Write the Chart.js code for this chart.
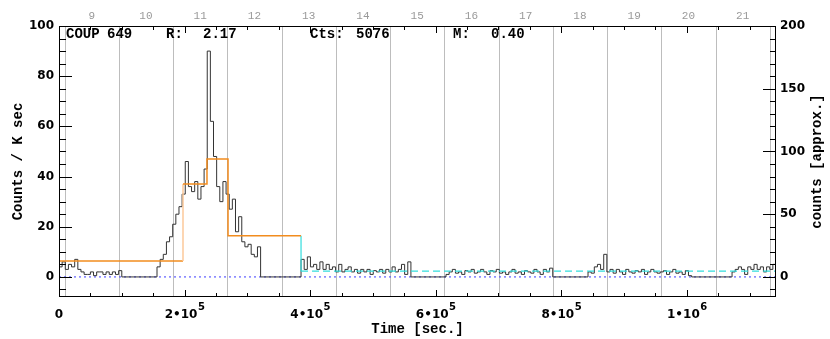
<!DOCTYPE html>
<html>
<head>
  <title>COUP 649</title>
  <script src="https://cdn.jsdelivr.net/npm/chart.js"></script>
  <style>
    body { margin: 0; background-color: white; }
  </style>
</head>
<body>
  <canvas id="lightCurve" width="830" height="339"></canvas>

  <script>
    // light curve bins (counts / ksec), 5 ks bins, one array per observing segment
    const binWidth = 5000;
    const segStarts = [0, 156100, 385500, 616400, 842600, 1072000];
    const seg1 = [4, 6, 3, 5, 4, 7, 3, 2, 1, 1, 2, 0.5, 2, 2, 1, 2, 1, 2, 1, 2.5];
    const seg2 = [4, 7, 9, 14, 16, 21, 25, 28, 33, 46, 36, 34, 38, 31, 36, 43, 90, 62, 48, 36,
                  30, 38, 33, 27, 31, 18, 24, 14, 12, 13, 9, 8, 12];
    const seg3 = [7, 3, 8, 4, 5, 3, 6, 3, 5, 3, 4, 2, 5, 2, 3, 4, 2, 3, 1.5, 3,
                  2, 3, 1, 2.5, 2, 3, 1.5, 3, 2, 4, 2, 3, 5, 1, 6];
    const seg4 = [1, 2, 3, 1.5, 2, 1, 2.5, 2, 3, 1.5, 2, 3, 2, 1, 2.5, 2, 3, 1.5, 2, 1,
                  2, 3, 1.5, 2, 1, 2.5, 2, 1.5, 3, 2, 1, 3, 2, 3.5];
    const seg5 = [2, 1.5, 4, 5, 3, 9, 2, 3, 1.5, 3, 2, 1, 3, 2, 1.5, 2.5, 2, 3, 1, 2,
                  3, 2, 1.5, 2, 2.5, 1, 2, 3, 1.5, 2, 1, 2.5, 0.5];
    const seg6 = [2, 3, 4, 3, 1, 4, 3, 5, 3, 4, 2, 4, 3, 5];
    const segments = [seg1, seg2, seg3, seg4, seg5, seg6];

    // bayesian blocks
    const blockEdges = [0, 197500, 235700, 269200, 385500];
    const blockRates = [6.3, 37, 47, 16.4];
    const lastBlockRate = 2.3;

    const tMax = 1142000;
    const dayStart = 8920;
    const daySec = 86400;

    const xLabelValues = [0, 200000, 400000, 600000, 800000, 1000000];
    const header = [["COUP", 66], ["649", 107], ["R:", 166], ["2.17", 203],
                    ["Cts:", 310], ["5076", 356], ["M:", 453], ["0.40", 491]];

    const curve = [];
    segments.forEach((vals, s) => {
      const t0 = segStarts[s];
      vals.forEach((v, i) => curve.push({x: t0 + i * binWidth, y: v}));
      curve.push({x: t0 + vals.length * binWidth, y: 0});
    });
    curve.push({x: tMax, y: 0});

    const blocks = [];
    blockRates.forEach((r, i) => {
      blocks.push({x: blockEdges[i], y: r});
      blocks.push({x: blockEdges[i + 1], y: r});
    });

    const lastEdge = blockEdges[blockEdges.length - 1];
    const lastBlock = [
      {x: lastEdge, y: blockRates[blockRates.length - 1]},
      {x: lastEdge, y: lastBlockRate},
      {x: tMax, y: lastBlockRate}
    ];

    const decor = {
      id: 'decor',
      beforeDatasetsDraw(chart) {
        const {ctx, chartArea: a, scales: {x}} = chart;
        ctx.save();
        ctx.strokeStyle = '#bdbdbd';
        ctx.lineWidth = 1;
        for (let t = dayStart; t <= tMax; t += daySec) {
          const px = Math.round(x.getPixelForValue(t)) + 0.5;
          ctx.beginPath();
          ctx.moveTo(px, a.top);
          ctx.lineTo(px, a.bottom);
          ctx.stroke();
        }
        ctx.restore();
      },
      afterDraw(chart) {
        const {ctx, chartArea: a, scales: {x, y, y2}} = chart;
        ctx.save();
        ctx.strokeStyle = 'black';
        ctx.lineWidth = 1;
        ctx.strokeRect(a.left + 0.5, a.top + 0.5, a.right - a.left - 1, a.bottom - a.top - 1);

        const tick = (x1, y1, x2, y2) => {
          ctx.beginPath();
          ctx.moveTo(x1, y1);
          ctx.lineTo(x2, y2);
          ctx.stroke();
        };
        for (let v = -5; v <= 100; v += 5) {
          const py = Math.round(y.getPixelForValue(v)) + 0.5;
          tick(a.left, py, a.left + (v % 20 === 0 ? 13 : 7), py);
        }
        for (let v = -10; v <= 200; v += 10) {
          const py = Math.round(y2.getPixelForValue(v)) + 0.5;
          tick(a.right, py, a.right - (v % 50 === 0 ? 13 : 6), py);
        }
        for (let t = 50000; t < tMax; t += 50000) {
          const px = Math.round(x.getPixelForValue(t)) + 0.5;
          const len = t % 200000 === 0 ? 7 : 4;
          tick(px, a.bottom, px, a.bottom - len);
          tick(px, a.top, px, a.top + len);
        }

        // bottom tick labels with exponents
        ctx.fillStyle = 'black';
        ctx.textBaseline = 'alphabetic';
        xLabelValues.forEach(v => {
          const px = x.getPixelForValue(v);
          ctx.font = 'bold 12px "DejaVu Sans"';
          if (v === 0) {
            ctx.textAlign = 'center';
            ctx.fillText('0', px, 317.5);
            return;
          }
          const e = Math.floor(Math.log10(v));
          const base = (v / Math.pow(10, e)) + '\u202210';
          const expo = String(e);
          const wb = ctx.measureText(base).width;
          ctx.font = 'bold 10px "DejaVu Sans"';
          const we = ctx.measureText(expo).width;
          const x0 = px - (wb + we) / 2;
          ctx.textAlign = 'left';
          ctx.font = 'bold 12px "DejaVu Sans"';
          ctx.fillText(base, x0, 317.5);
          ctx.font = 'bold 10px "DejaVu Sans"';
          ctx.fillText(expo, x0 + wb + 0.5, 310);
        });

        // titles
        ctx.font = 'bold 14px "Liberation Mono"';
        ctx.textAlign = 'center';
        ctx.textBaseline = 'middle';
        ctx.fillText('Time [sec.]', (a.left + a.right) / 2, 329);
        const mid = (a.top + a.bottom) / 2;
        ctx.save();
        ctx.translate(18, mid);
        ctx.rotate(-Math.PI / 2);
        ctx.fillText('Counts / K sec', 0, 0);
        ctx.restore();
        ctx.save();
        ctx.translate(817, mid);
        ctx.rotate(-Math.PI / 2);
        ctx.fillText('counts [approx.]', 0, 0);
        ctx.restore();

        // header line inside the plot
        ctx.textAlign = 'left';
        header.forEach(([txt, hx]) => ctx.fillText(txt, hx, 34));
        ctx.restore();
      }
    };

    new Chart(document.getElementById('lightCurve'), {
      type: 'line',
      data: {
        datasets: [
          {
            data: blocks,
            borderColor: '#f28c1e',
            borderWidth: 1.5,
            pointRadius: 0,
            segment: {
              borderColor: c => c.p0DataIndex === 1 ? '#fcc99a' : undefined
            }
          },
          {
            data: lastBlock,
            borderColor: '#33dddd',
            borderWidth: 1.2,
            pointRadius: 0,
            segment: {
              borderDash: c => c.p0DataIndex === 0 ? [] : [7, 4]
            }
          },
          {
            data: curve,
            borderColor: '#333333',
            borderWidth: 1,
            pointRadius: 0,
            stepped: true
          },
          {
            data: [{x: 0, y: 0}, {x: tMax, y: 0}],
            borderColor: '#3b3bff',
            borderWidth: 1,
            borderDash: [2, 3],
            pointRadius: 0
          }
        ]
      },
      options: {
        responsive: false,
        animation: false,
        layout: { padding: 0 },
        plugins: {
          legend: { display: false },
          tooltip: { enabled: false }
        },
        scales: {
          x: {
            type: 'linear',
            position: 'bottom',
            min: 0,
            max: tMax,
            grid: { display: false, drawTicks: false },
            border: { display: false },
            ticks: { display: false },
            afterFit: s => { s.height = 42; }
          },
          x2: {
            type: 'linear',
            position: 'top',
            min: 8.5 - dayStart / daySec,
            max: 8.5 + (tMax - dayStart) / daySec,
            grid: { display: false, drawTicks: false },
            border: { display: false },
            ticks: {
              stepSize: 1,
              includeBounds: false,
              autoSkip: false,
              padding: 3,
              color: '#999999',
              font: { family: 'Liberation Mono', size: 11 }
            },
            afterBuildTicks: s => { s.ticks = s.ticks.filter(t => Number.isInteger(t.value)); },
            afterFit: s => { s.height = 26; }
          },
          y: {
            position: 'left',
            min: -8,
            max: 100,
            grid: { display: false, drawTicks: false },
            border: { display: false },
            ticks: {
              stepSize: 20,
              includeBounds: false,
              padding: 5,
              color: 'black',
              font: { family: 'DejaVu Sans', size: 12, weight: 'bold' }
            },
            afterBuildTicks: s => { s.ticks = s.ticks.filter(t => t.value >= 0 && t.value % 20 === 0); },
            afterFit: s => { s.width = 59; }
          },
          y2: {
            position: 'right',
            min: -16,
            max: 200,
            grid: { display: false, drawTicks: false },
            border: { display: false },
            ticks: {
              stepSize: 50,
              includeBounds: false,
              padding: 4,
              color: 'black',
              font: { family: 'DejaVu Sans', size: 12, weight: 'bold' }
            },
            afterBuildTicks: s => { s.ticks = s.ticks.filter(t => t.value >= 0 && t.value % 50 === 0); },
            afterFit: s => { s.width = 54; }
          }
        }
      },
      plugins: [decor]
    });
  </script>
</body>
</html>
